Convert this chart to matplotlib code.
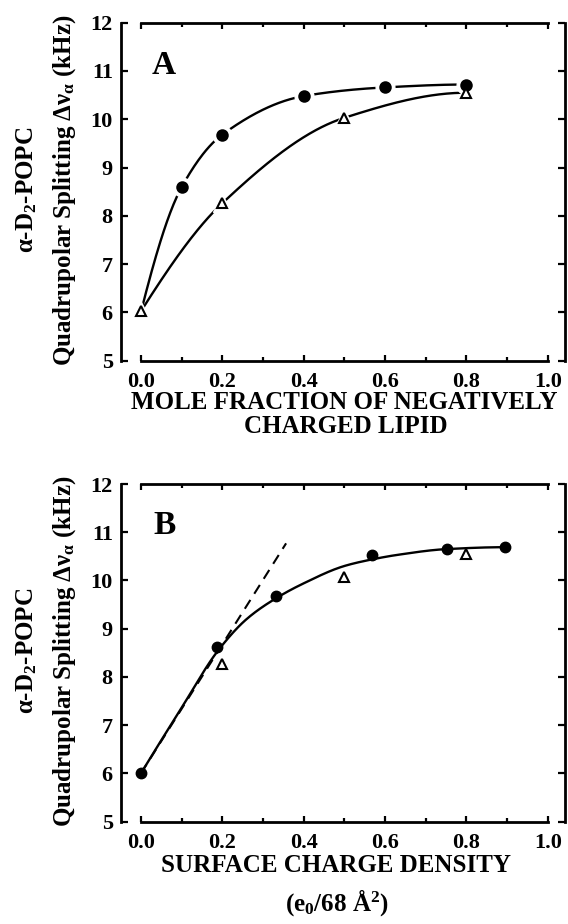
import numpy as np
import matplotlib
matplotlib.use("Agg")
import matplotlib.pyplot as plt

plt.rcParams['font.family'] = ['Liberation Serif', 'DejaVu Serif']
plt.rcParams['font.weight'] = 'bold'
plt.rcParams['mathtext.fontset'] = 'custom'
plt.rcParams['mathtext.rm'] = 'Liberation Serif:bold'
plt.rcParams['mathtext.it'] = 'Liberation Serif:bold'
plt.rcParams['mathtext.bf'] = 'Liberation Serif:bold'
plt.rcParams['mathtext.default'] = 'rm'

# ---------------- data ----------------
# Panel A: mole fraction of negatively charged lipid
a_circle_x = [0.0, 0.1, 0.2, 0.4, 0.6, 0.8]
a_circle_y = [6.0, 8.59, 9.68, 10.48, 10.66, 10.72]
a_tri_x = [0.0, 0.2, 0.5, 0.8]
a_tri_y = [6.02, 8.26, 10.03, 10.55]

# Panel B: surface charge density
b_circle_x = [0.0, 0.188, 0.332, 0.567, 0.753, 0.894]
b_circle_y = [6.0, 8.63, 9.68, 10.53, 10.65, 10.69]
b_tri_x = [0.2, 0.5, 0.8]
b_tri_y = [8.27, 10.08, 10.55]
# fitted solid curve in B
b_fit_x = [0.0, 0.1, 0.19, 0.26, 0.33, 0.4, 0.5, 0.57, 0.63, 0.75, 0.894]
b_fit_y = [6.0, 7.36, 8.55, 9.2, 9.62, 9.94, 10.3, 10.44, 10.53, 10.65, 10.69]
# dashed initial-slope line in B
b_dash_x = [0.0, 0.357]
b_dash_y = [6.0, 10.77]

x_ticks = [0.0, 0.2, 0.4, 0.6, 0.8, 1.0]
x_tick_labels = ['0.0', '0.2', '0.4', '0.6', '0.8', '1.0']
y_ticks = [5, 6, 7, 8, 9, 10, 11, 12]


def pchip(x, y, xn):
    """Monotone cubic (Fritsch-Carlson) curve through the points."""
    x = np.asarray(x, float); y = np.asarray(y, float)
    h = np.diff(x); d = np.diff(y) / h
    n = len(x); m = np.zeros(n)
    for k in range(1, n - 1):
        if d[k - 1] * d[k] > 0:
            w1 = 2 * h[k] + h[k - 1]; w2 = h[k] + 2 * h[k - 1]
            m[k] = (w1 + w2) / (w1 / d[k - 1] + w2 / d[k])
    def end(h0, h1, d0, d1):
        mm = ((2 * h0 + h1) * d0 - h0 * d1) / (h0 + h1)
        if np.sign(mm) != np.sign(d0):
            mm = 0.0
        elif np.sign(d0) != np.sign(d1) and abs(mm) > abs(3 * d0):
            mm = 3 * d0
        return mm
    m[0] = end(h[0], h[1], d[0], d[1])
    m[-1] = end(h[-1], h[-2], d[-1], d[-2])
    xn = np.asarray(xn, float)
    idx = np.clip(np.searchsorted(x, xn) - 1, 0, n - 2)
    t = (xn - x[idx]) / h[idx]
    h00 = 2 * t**3 - 3 * t**2 + 1; h10 = t**3 - 2 * t**2 + t
    h01 = -2 * t**3 + 3 * t**2; h11 = t**3 - t**2
    return h00 * y[idx] + h10 * h[idx] * m[idx] + h01 * y[idx + 1] + h11 * h[idx] * m[idx + 1]


W, H = 568, 924
fig = plt.figure(figsize=(W / 100, H / 100), dpi=100)

FS = 16      # tick labels
LFS = 18     # axis labels
LW = 1.7
MS = 7.5


def style_axes(ax):
    ax.set_xlim(-0.050, 1.0425)
    ax.set_ylim(5, 12)
    for s in ['left', 'right', 'top', 'bottom']:
        ax.spines[s].set_linewidth(2.0)
    ax.spines['top'].set_bounds(0, 1)
    ax.spines['bottom'].set_bounds(0, 1)
    ax.set_xticks(x_ticks)
    ax.set_xticklabels(x_tick_labels)
    ax.set_xticks(np.arange(0.1, 1.0, 0.2), minor=True)
    ax.set_yticks(y_ticks)
    ax.tick_params(axis='x', which='major', direction='in', length=4.5, width=1.6,
                   top=True, bottom=True, labelsize=FS, pad=8)
    ax.tick_params(axis='x', which='minor', direction='in', length=3, width=1.6,
                   top=True, bottom=True)
    ax.tick_params(axis='y', which='major', direction='in', length=5, width=1.6,
                   left=True, right=True, labelsize=FS, pad=5.5)
    for lab in ax.get_xticklabels() + ax.get_yticklabels():
        lab.set_fontweight('bold')


def draw_markers(ax, x, y, marker, filled):
    ax.plot(x, y, linestyle='none', marker=marker, ms=MS + 6, mfc='white',
            mec='white', zorder=3)
    ax.plot(x, y, linestyle='none', marker=marker, ms=MS if filled else MS - 0.5,
            mfc='black' if filled else 'white', mec='black', mew=1.5, zorder=4)


# ---------------- Panel A ----------------
axA = fig.add_axes([120.5 / W, 1 - 360.7 / H, 444.5 / W, 338 / H])
style_axes(axA)
xs = np.linspace(a_circle_x[0], a_circle_x[-1], 300)
axA.plot(xs, pchip(a_circle_x, a_circle_y, xs), color='black', lw=LW, zorder=2)
xs = np.linspace(a_tri_x[0], a_tri_x[-1], 300)
axA.plot(xs, pchip(a_tri_x, a_tri_y, xs), color='black', lw=LW, zorder=2)
draw_markers(axA, a_circle_x[1:], a_circle_y[1:], 'o', True)
draw_markers(axA, a_tri_x, a_tri_y, '^', False)
axA.text(0.027, 10.93, 'A', fontsize=24, fontweight='bold', ha='left', va='baseline')

# ---------------- Panel B ----------------
axB = fig.add_axes([120.5 / W, 1 - 821.7 / H, 444.5 / W, 337.7 / H])
style_axes(axB)
axB.plot(b_dash_x, b_dash_y, color='black', lw=1.5, linestyle=(0, (5, 3.5)), zorder=2)
xs = np.linspace(b_fit_x[0], b_fit_x[-1], 300)
axB.plot(xs, pchip(b_fit_x, b_fit_y, xs), color='black', lw=LW, zorder=2.5)
axB.plot(b_tri_x, b_tri_y, linestyle='none', marker='^', ms=MS - 0.5, mfc='white',
         mec='black', mew=1.5, zorder=4)
axB.plot(b_circle_x, b_circle_y, linestyle='none', marker='o', ms=MS, mfc='black',
         mec='black', zorder=5)
axB.text(0.03, 10.96, 'B', fontsize=24, fontweight='bold', ha='left', va='baseline')

# ---------------- labels ----------------
ylab1 = 'α-D$_2$-POPC'
ylab2 = 'Quadrupolar Splitting Δν$_α$ (kHz)'
for yc in [190, 651]:
    fig.text(33 / W, 1 - yc / H, ylab1, rotation=90, rotation_mode='anchor',
             ha='center', va='baseline', fontsize=LFS, fontweight='bold')
    fig.text(70.7 / W, 1 - yc / H, ylab2, rotation=90, rotation_mode='anchor',
             ha='center', va='baseline', fontsize=LFS, fontweight='bold')

fig.text(344 / W, 1 - 409 / H, 'MOLE FRACTION OF NEGATIVELY', ha='center',
         va='baseline', fontsize=LFS, fontweight='bold')
fig.text(346 / W, 1 - 433 / H, 'CHARGED LIPID', ha='center', va='baseline',
         fontsize=LFS, fontweight='bold')
fig.text(336 / W, 1 - 872 / H, 'SURFACE CHARGE DENSITY', ha='center',
         va='baseline', fontsize=LFS, fontweight='bold')
fig.text(337.5 / W, 1 - 911 / H, '(e$_0$/68 Å$^2$)', ha='center', va='baseline',
         fontsize=LFS, fontweight='bold')

fig.savefig('out.png', dpi=100)
